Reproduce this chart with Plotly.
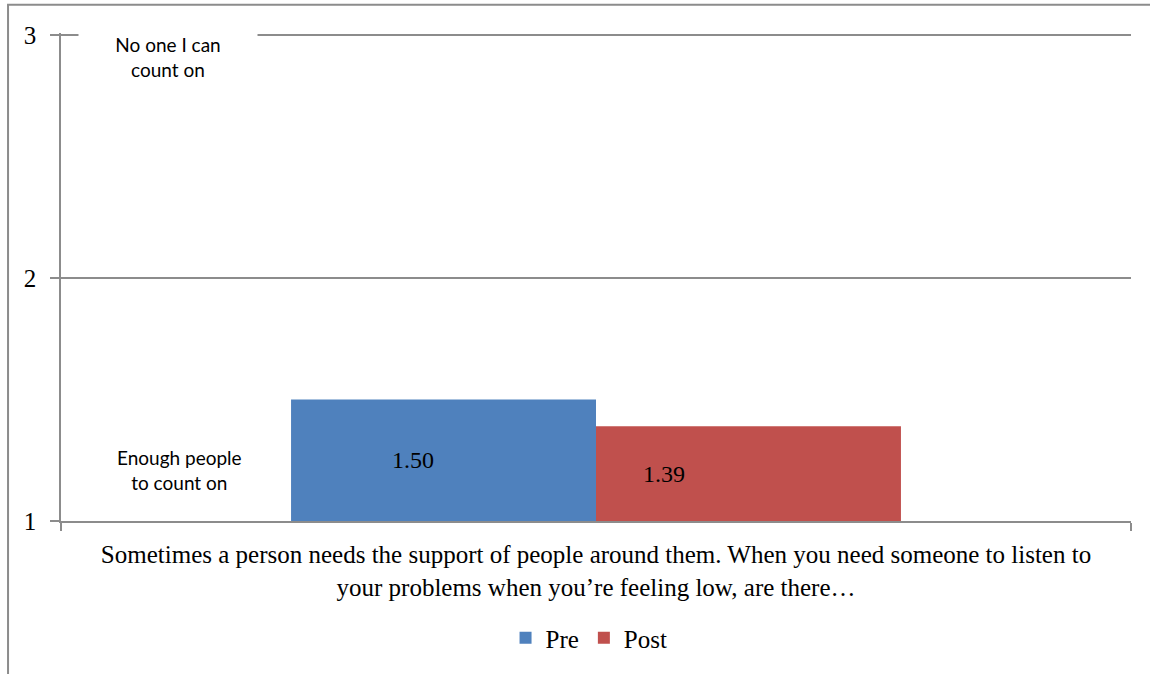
import plotly.graph_objects as go

# Survey item and mean scores (1 = enough people, 3 = no one)
question = ("Sometimes a person needs the support of people around them. When you need someone to listen to"
            "<br>your problems when you\u2019re feeling low, are there\u2026")
series_names = ["Pre", "Post"]
series_values = [1.50, 1.39]
series_colors = ["#4F81BD", "#C0504D"]
y_ticks = [1, 2, 3]
top_anchor_label = "No one I can<br>count on"
bottom_anchor_label = "Enough people<br>to count on"

# horizontal offset (px) of each value label from the category centre
label_shift = [-183, 68]

SERIF = "Liberation Serif, Times New Roman, serif"
SANS = "Lato, Carlito, Calibri, sans-serif"
GRID = "#8C8C8C"
Y_MIN, Y_MAX = 1, 3
# a little headroom so the top gridline is not clipped at the plot edge
Y_PAD = 0.01

fig = go.Figure()
for name, val, col in zip(series_names, series_values, series_colors):
    fig.add_trace(go.Bar(
        name=name,
        x=[question],
        y=[val],
        marker=dict(color=col, line=dict(width=0)),
        textposition="none",
        hoverinfo="skip",
    ))

# value labels, vertically centred on the visible part of each bar
for val, dx in zip(series_values, label_shift):
    fig.add_annotation(
        text=f"{val:.2f}", xref="x", yref="y", x=question, y=(Y_MIN + val) / 2,
        xshift=dx, showarrow=False, xanchor="center", yanchor="middle",
        font=dict(family=SERIF, size=24, color="black"),
    )

fig.update_layout(
    width=1150, height=674,
    margin=dict(l=61, r=19, t=33, b=153),
    paper_bgcolor="white", plot_bgcolor="white",
    barmode="group", bargap=0.43, bargroupgap=0,
    showlegend=True,
    legend=dict(orientation="h", x=0.4935, xanchor="center", y=-0.24, yanchor="middle",
                font=dict(family=SERIF, size=25, color="black"),
                itemwidth=30, tracegroupgap=0),
)

fig.update_xaxes(
    type="category", tickson="boundaries", ticks="outside", ticklen=8,
    tickcolor=GRID, tickwidth=1.5,
    showline=True, linecolor=GRID, linewidth=2,
    showgrid=False,
    tickfont=dict(family=SERIF, size=25, color="black"),
    ticklabelstandoff=10,
)
fig.update_yaxes(
    range=[Y_MIN, Y_MAX + Y_PAD], tickvals=y_ticks, ticks="outside", ticklen=9,
    tickcolor=GRID, tickwidth=1.5,
    showline=True, linecolor=GRID, linewidth=1.5,
    showgrid=True, gridcolor=GRID, gridwidth=1.5, zeroline=False,
    tickfont=dict(family=SERIF, size=25, color="black"),
    ticklabelstandoff=9,
)

# Scale anchors on the left side of the plot
fig.add_annotation(text=top_anchor_label, xref="paper", yref="y", x=0.1, y=2.91,
                   xanchor="center", yanchor="middle",
                   showarrow=False, font=dict(family=SANS, size=19, color="black"),
                   bgcolor="white", width=170, borderpad=4, align="center")
fig.add_annotation(text=bottom_anchor_label, xref="paper", yref="y", x=0.111, y=1.21,
                   xanchor="center", yanchor="middle",
                   showarrow=False, font=dict(family=SANS, size=19, color="black"),
                   align="center")

# Outer chart frame
fig.add_shape(type="rect", xref="paper", yref="paper",
              x0=-0.0495, x1=1.03, y0=-0.33, y1=1.058,
              line=dict(color="#8C8C8C", width=2), fillcolor="rgba(0,0,0,0)", layer="below")

fig.write_html("out.html")
